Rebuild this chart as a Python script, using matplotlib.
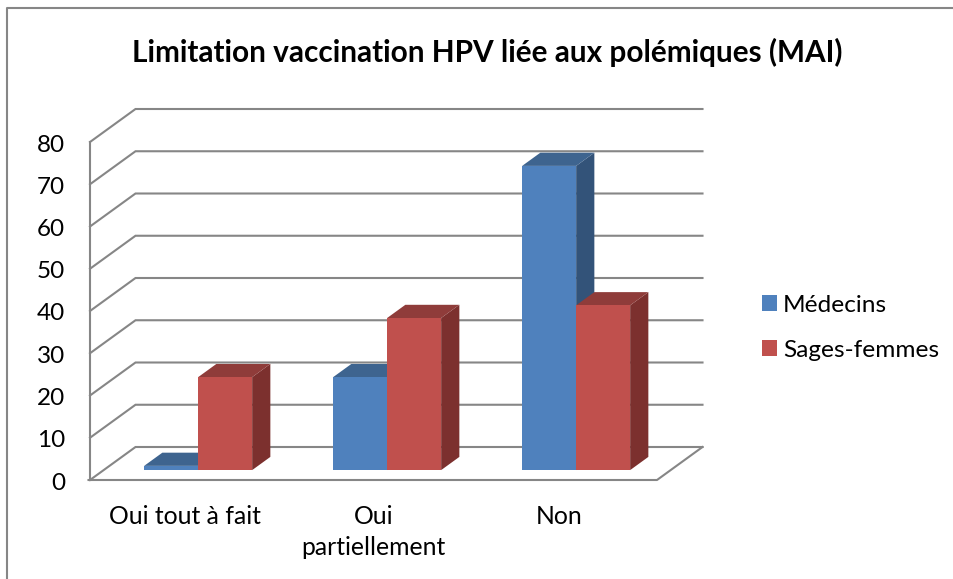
import matplotlib
matplotlib.use('Agg')
from matplotlib import pyplot as plt
from matplotlib.patches import Polygon, Patch

categories = ['Oui tout à fait', 'Oui\npartiellement', 'Non']
medecins = [1, 22, 72]
sages_femmes = [22, 36, 39]
yticks = [0, 10, 20, 30, 40, 50, 60, 70, 80]

plt.rcParams['font.family'] = ['Lato', 'DejaVu Sans']

W, H = 954, 579
x0, y0 = 90, 480      # pixel of category 0 / value 0
px_x = 189.0          # pixels for one category
px_y = 4.225          # pixels for one value unit
dx, dy = 45.5 / px_x, 33 / px_y   # depth of the 3d box
grey = '#868686'

fig = plt.figure(figsize=(W / 100, H / 100), dpi=100)
ax = fig.add_axes([0, 0, 1, 1])
ax.set_xlim(-x0 / px_x, (W - x0) / px_x)
ax.set_ylim(-(H - y0) / px_y, y0 / px_y)
ax.axis('off')

# outer frame, only the left and top edges are in the crop
fig.add_artist(plt.Line2D([7.5 / W, 7.5 / W, 1], [0, 1 - 7.5 / H, 1 - 7.5 / H], color=grey, lw=1.5))

# walls
n = len(categories)
for v in yticks:
    ax.plot([0, dx, n + dx], [v, v + dy, v + dy], color=grey, lw=1.5, solid_joinstyle='miter', zorder=1)
    ax.text(-25 / px_x, v - 3 / px_y, str(v), ha='right', va='center', fontsize=17.5, color='black')
ax.plot([0, 0], [0, yticks[-1]], color=grey, lw=1.5, zorder=1)
ax.plot([-1.5 / px_x, n, n + dx], [0, 0, dy], color=grey, lw=1.5, zorder=1)


def bar3d(x, w, v, front, top, side, z):
    # bar stands in the middle of the floor depth
    a = 0.3
    b = 0.7
    xa, ya = x + a * dx, a * dy
    sx, sy = (b - a) * dx, (b - a) * dy
    ax.add_patch(Polygon([(xa + w, ya), (xa + w + sx, ya + sy), (xa + w + sx, ya + sy + v), (xa + w, ya + v)],
                         fc=side, ec='none', zorder=z))
    ax.add_patch(Polygon([(xa, ya + v), (xa + sx, ya + sy + v), (xa + w + sx, ya + sy + v), (xa + w, ya + v)],
                         fc=top, ec='none', zorder=z))
    ax.add_patch(Polygon([(xa, ya), (xa + w, ya), (xa + w, ya + v), (xa, ya + v)],
                         fc=front, ec='none', zorder=z))


bw = 54 / px_x
for i in range(n):
    c = i + 0.5
    bar3d(c - bw, bw, medecins[i], '#4F81BD', '#3E648F', '#335379', 3 + i)
    bar3d(c, bw, sages_femmes[i], '#C0504D', '#8F3C3A', '#7C302E', 3.5 + i)

label_x = [0.5, 1.5, 2.48]
for i in range(n):
    ax.text(label_x[i], -(505 - y0) / px_y, categories[i], ha='center', va='top', fontsize=17.8,
            color='black', linespacing=1.44)

ax.text(487 / W, 1 - 52 / H, 'Limitation vaccination HPV liée aux polémiques (MAI)', transform=ax.transAxes,
        ha='center', va='center', fontsize=21.4, fontweight='bold', color='black')

handles = [Patch(fc='#4F81BD', label='Médecins'), Patch(fc='#C0504D', label='Sages-femmes')]
ax.legend(handles=handles, loc='center left', bbox_to_anchor=(762 / W, 1 - 328 / H), frameon=False, fontsize=17.6,
          handlelength=0.62, handleheight=0.62, handletextpad=0.24, labelspacing=0.98, borderpad=0, borderaxespad=0)

fig.savefig('out.png', dpi=100)
